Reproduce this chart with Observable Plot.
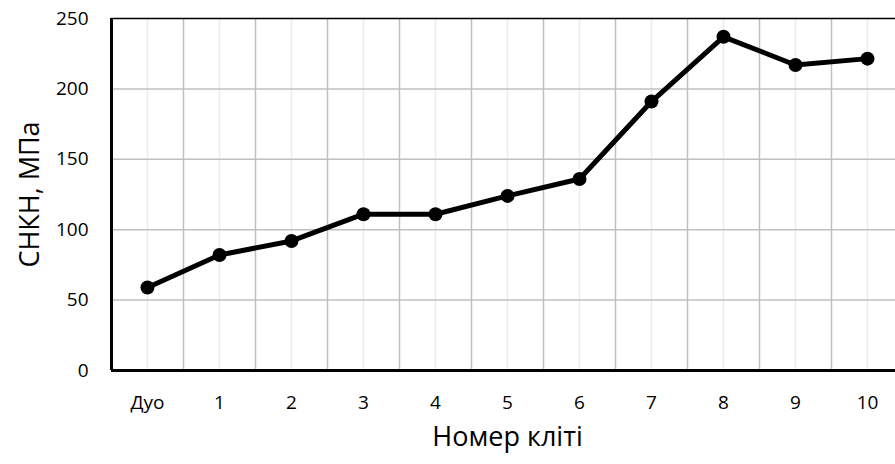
<!DOCTYPE html>
<html><head><meta charset="utf-8">
<script src="https://cdn.jsdelivr.net/npm/d3@7"></script>
<script src="https://cdn.jsdelivr.net/npm/@observablehq/plot@0.6"></script>
<style>
html,body{margin:0;padding:0;background:#fff;overflow:hidden;}
svg{display:block;}
</style>
</head><body><div id="chart"></div>
<script>
const categories = ["Дуо","1","2","3","4","5","6","7","8","9","10"];
const values = [59, 82, 92, 111, 111, 124, 136, 191, 237, 217, 221.5];
const yTicks = [0, 50, 100, 150, 200, 250];
const xTitle = "Номер кліті";
const yTitle = "СНКН, МПа";

const idx = d3.range(categories.length);
const data = idx.map(i => ({i, v: values[i]}));
const bounds = d3.range(categories.length + 1).map(i => i - 0.5);
const font = "'Open Sans', sans-serif";

const chart = Plot.plot({
  width: 895, height: 464,
  marginLeft: 111, marginRight: -8, marginTop: 18, marginBottom: 94,
  style: {fontFamily: font, background: "#fff"},
  x: {domain: [-0.5, categories.length - 0.5], axis: null},
  y: {domain: [0, 250], axis: null},
  marks: [
    Plot.ruleX(idx, {x: d => d, stroke: "#ececec", strokeWidth: 1.5}),
    Plot.ruleX(bounds, {x: d => d, stroke: "#bfbfbf", strokeWidth: 1.5}),
    Plot.ruleY(yTicks.filter(t => t > 0 && t < 250), {y: d => d, stroke: "#bfbfbf", strokeWidth: 1.5}),
    Plot.ruleY([250], {stroke: "#000", strokeWidth: 1.3}),
    Plot.ruleY([0], {stroke: "#000", strokeWidth: 3}),
    Plot.ruleX([-0.5], {stroke: "#000", strokeWidth: 3}),
    Plot.text(yTicks, {x: -0.5, y: d => d, text: d => String(d), textAnchor: "end", dx: -23, fontSize: 19, fill: "#000"}),
    Plot.text(idx, {x: d => d, y: 0, text: d => categories[d], dy: 32, fontSize: 19, fill: "#000"}),
    Plot.line(data, {x: "i", y: "v", stroke: "#000", strokeWidth: 5, strokeLinejoin: "round"}),
    Plot.dot(data, {x: "i", y: "v", r: 7, fill: "#000"}),
    Plot.text([xTitle], {frameAnchor: "bottom", dy: 75, fontSize: 27, fill: "#000", text: d => d}),
    Plot.text([yTitle], {frameAnchor: "left", textAnchor: "middle", dx: -81, rotate: -90, fontSize: 27, fill: "#000", text: d => d})
  ]
});
document.getElementById("chart").appendChild(chart);
</script>
</body></html>
